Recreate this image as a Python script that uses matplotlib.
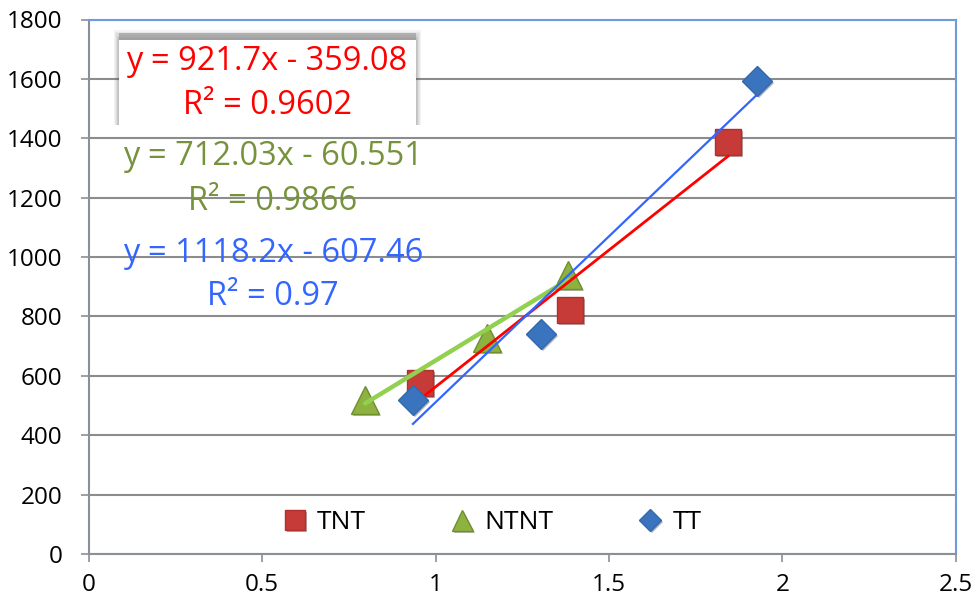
import matplotlib
matplotlib.use("Agg")
import matplotlib.pyplot as plt
import matplotlib.patheffects as pe
from matplotlib.patches import Rectangle
import numpy as np

plt.rcParams['font.family'] = ['Open Sans', 'DejaVu Sans']

# ---- data ----
tnt_x = [0.955, 1.388, 1.843]
tnt_y = [576, 822, 1388]
ntnt_x = [0.797, 1.148, 1.382]
ntnt_y = [519, 727, 940]
tt_x = [0.935, 1.304, 1.927]
tt_y = [519, 741, 1593]

# trendline coefficients (slope, intercept) and R^2 as shown
tnt_fit = (921.7, -359.08)
ntnt_fit = (712.03, -60.551)
tt_fit = (1118.2, -607.46)
tnt_label = ["y = 921.7x - 359.08", "R² = 0.9602"]
ntnt_label = ["y = 712.03x - 60.551", "R² = 0.9866"]
tt_label = ["y = 1118.2x - 607.46", "R² = 0.97"]

x_ticks = [0, 0.5, 1, 1.5, 2, 2.5]
x_ticklabels = ["0", "0.5", "1", "1.5", "2", "2.5"]
y_ticks = [0, 200, 400, 600, 800, 1000, 1200, 1400, 1600, 1800]

W, H = 975, 600
fig = plt.figure(figsize=(W / 100, H / 100), dpi=100)
ax = fig.add_axes([0.0908, 0.0767, 0.8897, 0.8908])
ax.set_xlim(0, 2.5)
ax.set_ylim(0, 1800)

ax.set_yticks(y_ticks)
ax.set_xticks(x_ticks)
ax.set_xticklabels(x_ticklabels)
ax.yaxis.grid(True, color='#8c8c8c', linewidth=1.5, zorder=0)
ax.set_axisbelow(True)
ax.tick_params(axis='both', labelsize=17.5, color='#8a8f99', width=1.2, length=6, direction='out')
ax.tick_params(axis='x', pad=8)
ax.tick_params(axis='y', pad=13)
for s in ['left', 'bottom']:
    ax.spines[s].set_color('#8a8f99')
    ax.spines[s].set_linewidth(1.5)
for s in ['top', 'right']:
    ax.spines[s].set_color('#6f9bd8')
    ax.spines[s].set_linewidth(1.5)

shadow = [pe.SimplePatchShadow(offset=(1.5, -1.5), alpha=0.35), pe.Normal()]

# trendlines
def trend(xs, fit):
    xr = np.array([min(xs), max(xs)])
    return xr, fit[0] * xr + fit[1]

xr, yr = trend(ntnt_x, ntnt_fit)
ax.plot(xr, yr, color='#92d050', lw=3.2, zorder=3, solid_capstyle='round')
xr, yr = trend(tnt_x, tnt_fit)
ax.plot(xr, yr, color='#ff0000', lw=2.0, zorder=4)
xr, yr = trend(tt_x, tt_fit)
ax.plot(xr, yr, color='#3366ff', lw=1.6, zorder=4)

# markers
h1, = ax.plot(tnt_x, tnt_y, linestyle='none', marker='s', ms=19, color='#c63a37',
              mec='#b03030', mew=1, zorder=2, path_effects=shadow, label='TNT')
h2, = ax.plot(ntnt_x, ntnt_y, linestyle='none', marker='^', ms=20, color='#8db23f',
              mec='#6f8f30', mew=1, zorder=2, path_effects=shadow, label='NTNT')
h3, = ax.plot(tt_x, tt_y, linestyle='none', marker='D', ms=15, color='#3a73be',
              mec='#3468ad', mew=1, zorder=5, path_effects=shadow, label='TT')

leg = ax.legend(handles=[h1, h2, h3], loc='center', bbox_to_anchor=(0.463, 0.058),
                ncol=3, frameon=False, fontsize=19, columnspacing=3.05,
                handletextpad=0.25, markerscale=0.75, handlelength=1.2)

# red label box with soft shadow (pixel coords converted to axes fraction)
ax_l, ax_b = 0.0908 * W, H - 0.0767 * H  # left px, bottom px (from top)
ax_w, ax_h = 0.8897 * W, 0.8908 * H

def px_rect(x0, y0, x1, y1, **kw):
    fx0 = (x0 - ax_l) / ax_w
    fx1 = (x1 - ax_l) / ax_w
    fy0 = (ax_b - y1) / ax_h
    fy1 = (ax_b - y0) / ax_h
    return Rectangle((fx0, fy0), fx1 - fx0, fy1 - fy0, transform=ax.transAxes, **kw)

bx0, by0, bx1, by1 = 119, 40, 416, 125
for k in range(1, 7):
    ax.add_patch(px_rect(bx0 - k * 0.8, by0 - k * 1.7, bx1 + k * 0.8, by1,
                         facecolor='#555555', edgecolor='none', alpha=0.07, zorder=6))
ax.add_patch(px_rect(bx0, by0 - 7, bx1, by0, facecolor='#7a7a7a', edgecolor='none',
                     alpha=0.45, zorder=6))
ax.add_patch(px_rect(bx0, by0, bx1, by1, facecolor='white', edgecolor='none', zorder=7))

fs = 23.5
ax.text(0.2058, 0.921, tnt_label[0], transform=ax.transAxes, ha='center', va='center',
        color='#ff0000', fontsize=fs, zorder=8)
ax.text(0.2058, 0.840, tnt_label[1], transform=ax.transAxes, ha='center', va='center',
        color='#ff0000', fontsize=fs, zorder=8)
ax.text(0.2127, 0.743, ntnt_label[0], transform=ax.transAxes, ha='center', va='center',
        color='#76923c', fontsize=fs, zorder=8)
ax.text(0.2127, 0.6586, ntnt_label[1], transform=ax.transAxes, ha='center', va='center',
        color='#76923c', fontsize=fs, zorder=8)
ax.text(0.2127, 0.563, tt_label[0], transform=ax.transAxes, ha='center', va='center',
        color='#3366ff', fontsize=fs, zorder=8)
ax.text(0.2127, 0.481, tt_label[1], transform=ax.transAxes, ha='center', va='center',
        color='#3366ff', fontsize=fs, zorder=8)

fig.savefig('out.png', dpi=100)
